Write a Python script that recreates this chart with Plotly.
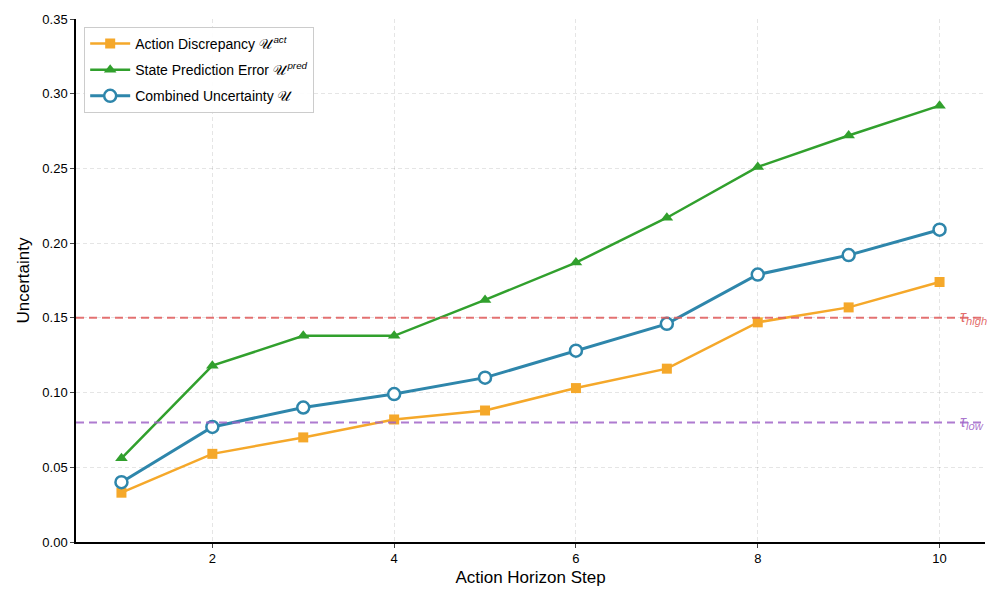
import plotly.graph_objects as go

steps = [1, 2, 3, 4, 5, 6, 7, 8, 9, 10]
action_disc = [0.033, 0.059, 0.070, 0.082, 0.088, 0.103, 0.116, 0.147, 0.157, 0.174]
state_pred = [0.056, 0.118, 0.138, 0.138, 0.162, 0.187, 0.217, 0.251, 0.272, 0.292]
combined = [0.040, 0.077, 0.090, 0.099, 0.110, 0.128, 0.146, 0.179, 0.192, 0.209]
tau_high = 0.15
tau_low = 0.08

FONT = "Liberation Sans, Arial, sans-serif"
U = "<span style='font-family:Noto Sans Math, DejaVu Sans'>𝒰</span>"
fig = go.Figure()

fig.add_hline(y=tau_high, line=dict(color="rgba(224,90,90,0.85)", width=2, dash="8px,5px"))
fig.add_hline(y=tau_low, line=dict(color="rgba(160,100,200,0.85)", width=2, dash="8px,5px"))

fig.add_trace(go.Scatter(
    x=steps, y=action_disc, mode="lines+markers", legendgroup="a",
    name="Action Discrepancy " + U + "<sup><i>act</i></sup>",
    line=dict(color="#F5A82A", width=2.5),
    marker=dict(symbol="square", size=10, color="#F5A82A"),
))
fig.add_trace(go.Scatter(
    x=steps, y=state_pred, mode="lines+markers", legendgroup="b",
    name="State Prediction Error " + U + "<sup><i>pred</i></sup>",
    line=dict(color="#31A02D", width=2.5),
    marker=dict(symbol="triangle-up", size=11, color="#31A02D"),
))
fig.add_trace(go.Scatter(
    x=steps, y=combined, mode="lines+markers", legendgroup="c",
    name="Combined Uncertainty " + U,
    line=dict(color="#2E86AB", width=3),
    marker=dict(symbol="circle", size=12, color="white", line=dict(color="#2E86AB", width=2.5)),
))

fig.add_annotation(x=10.2, y=tau_high, xref="x", yref="y", text="<i>τ</i><sub><i>high</i></sub>",
                   showarrow=False, xanchor="left", yanchor="middle",
                   font=dict(color="rgba(224,90,90,0.9)", size=16, family=FONT))
fig.add_annotation(x=10.2, y=tau_low, xref="x", yref="y", text="<i>τ</i><sub><i>low</i></sub>",
                   showarrow=False, xanchor="left", yanchor="middle",
                   font=dict(color="rgba(160,100,200,0.9)", size=16, family=FONT))

fig.update_layout(
    width=990, height=590,
    margin=dict(l=76, r=5, t=19, b=48),
    plot_bgcolor="white", paper_bgcolor="white",
    font=dict(family=FONT, size=13, color="black"),
    legend=dict(x=0.009, y=0.985, xanchor="left", yanchor="top",
                bgcolor="rgba(255,255,255,0.9)", bordercolor="#cccccc", borderwidth=1,
                font=dict(size=14, family=FONT), itemwidth=40, tracegroupgap=5),
    showlegend=True,
)
grid = dict(showgrid=True, gridcolor="rgba(0,0,0,0.10)", griddash="4px,3px", gridwidth=1)
fig.update_xaxes(
    range=[0.5, 10.5], tickvals=[2, 4, 6, 8, 10], ticks="outside", ticklen=4,
    showline=True, linecolor="black", linewidth=1.5, zeroline=False,
    title=dict(text="Action Horizon Step", font=dict(size=17, family=FONT), standoff=6),
    tickfont=dict(size=13), **grid,
)
fig.update_yaxes(
    range=[0, 0.35], tickvals=[0, 0.05, 0.10, 0.15, 0.20, 0.25, 0.30, 0.35], tickformat=".2f",
    ticks="outside", ticklen=4,
    showline=True, linecolor="black", linewidth=1.5, zeroline=False,
    title=dict(text="Uncertainty", font=dict(size=17, family=FONT), standoff=8),
    tickfont=dict(size=13), **grid,
)

fig.write_html("out.html")
